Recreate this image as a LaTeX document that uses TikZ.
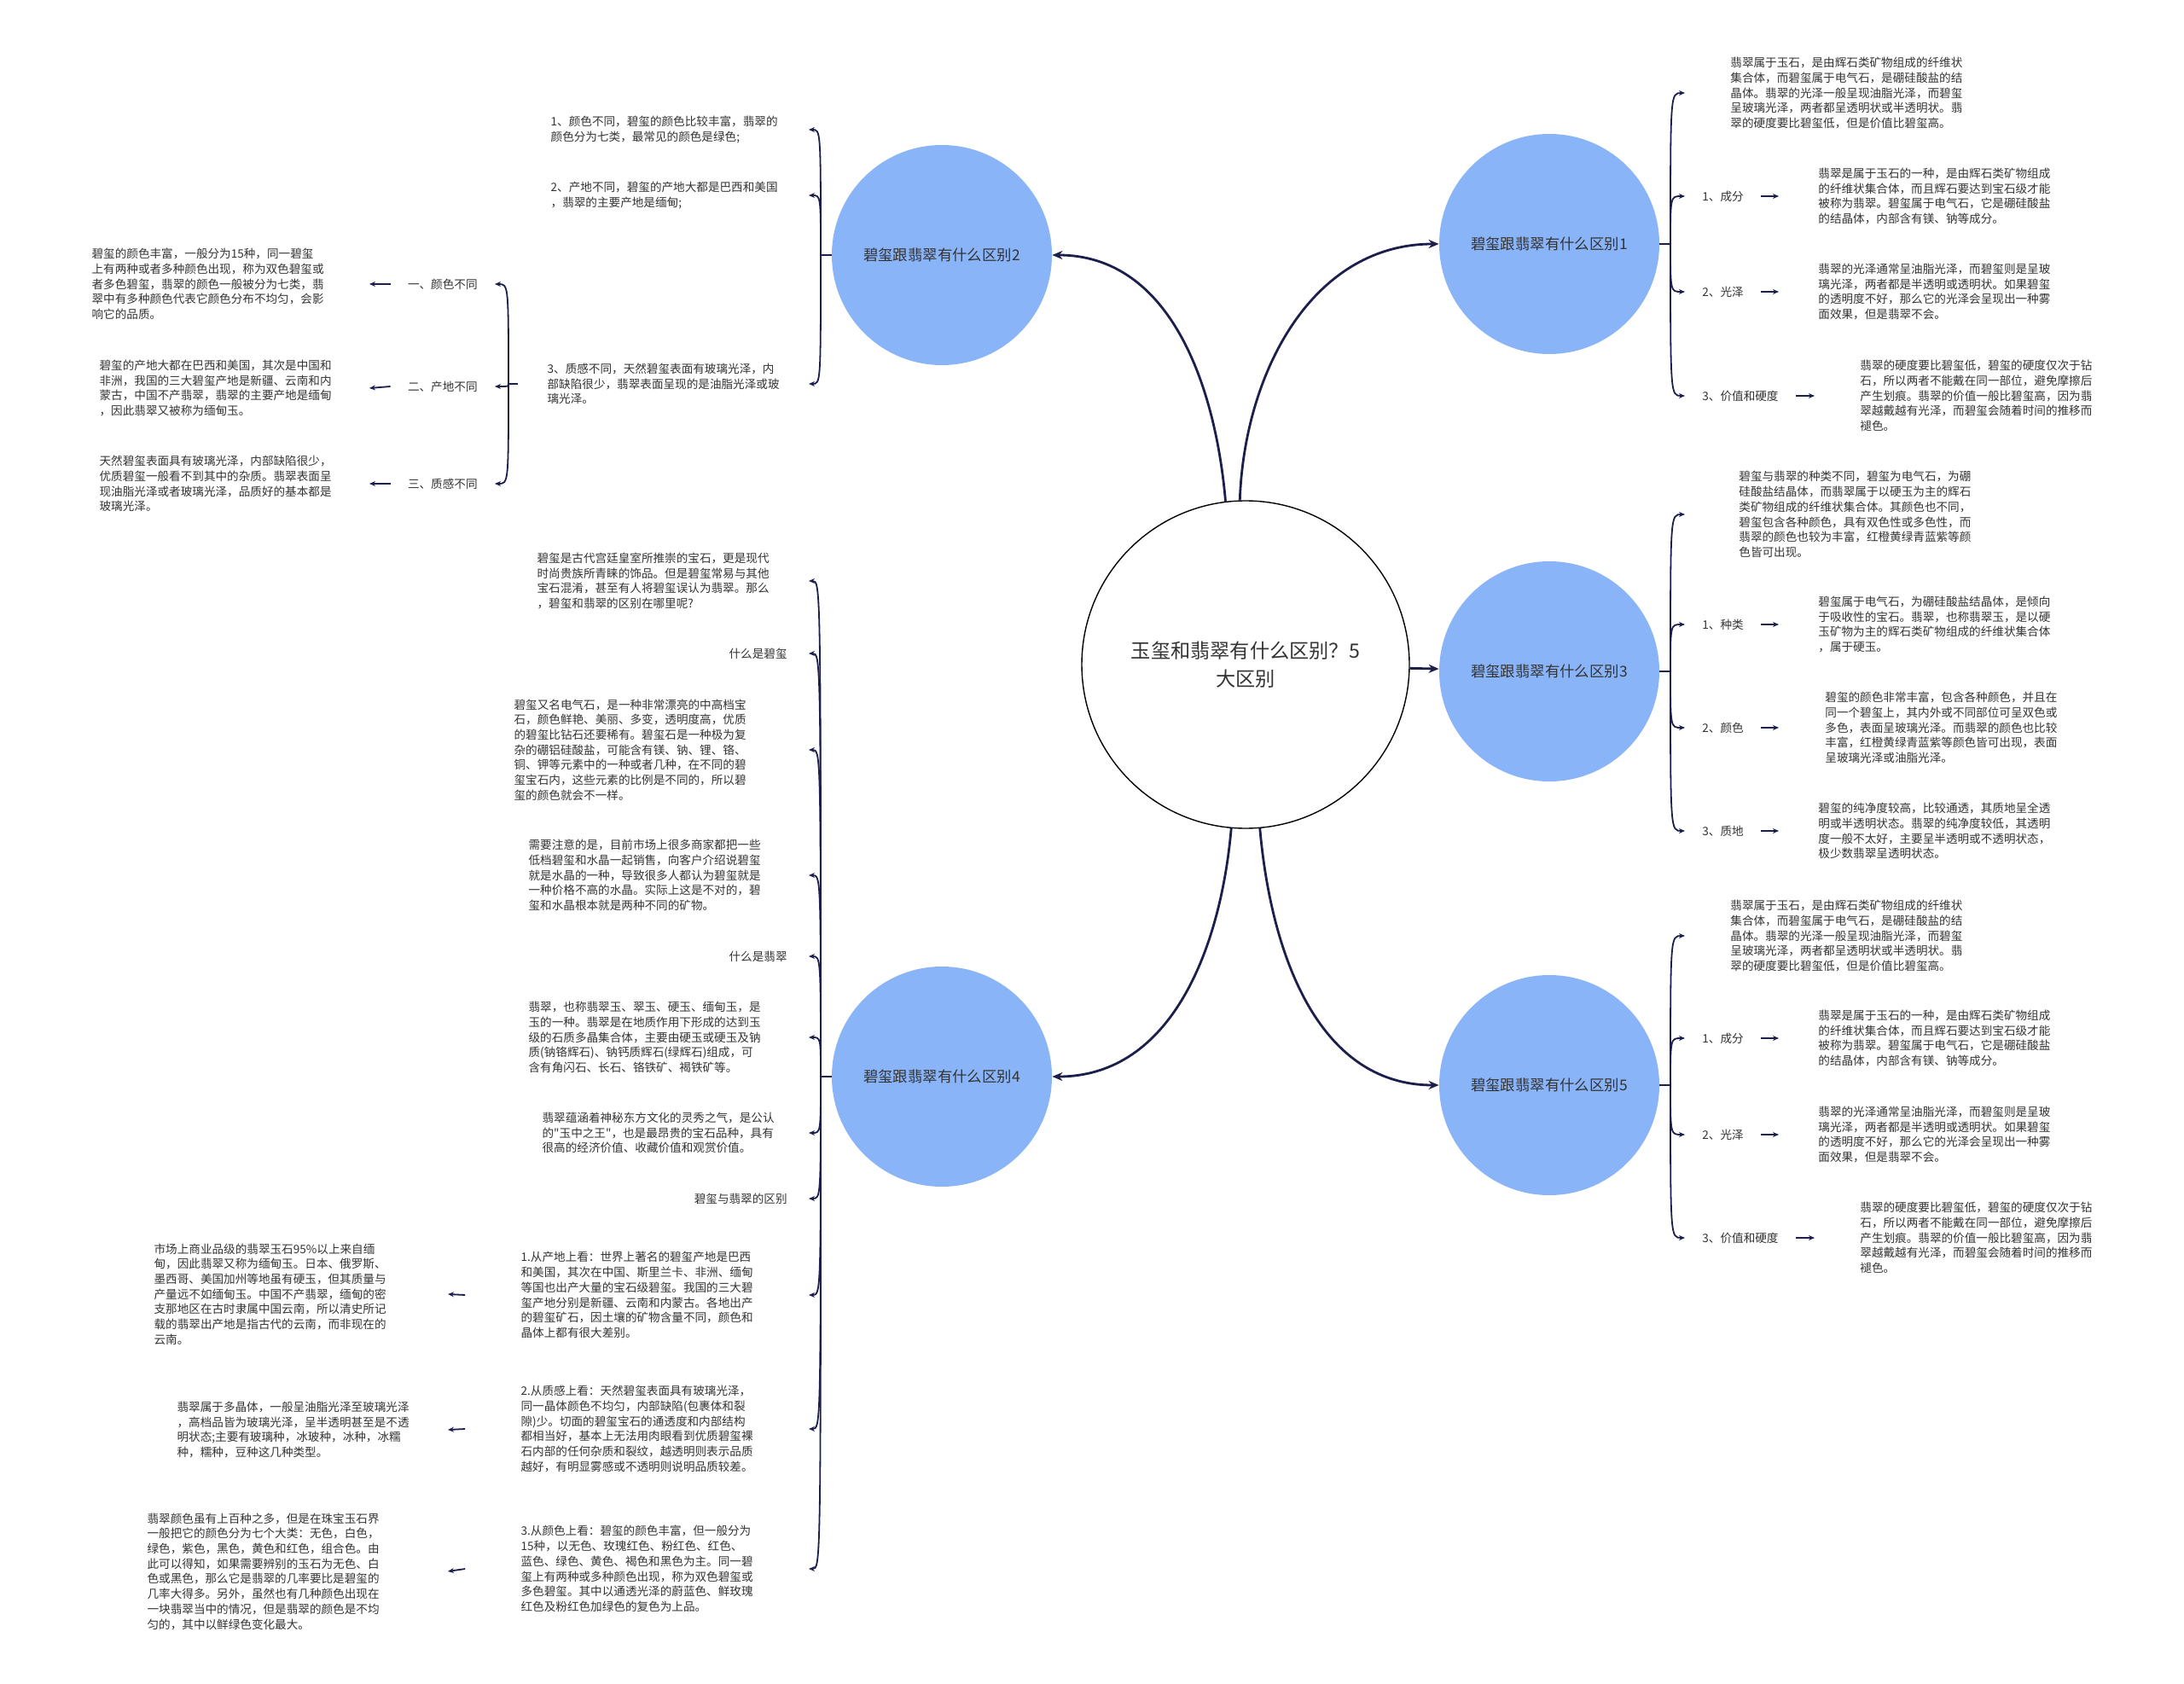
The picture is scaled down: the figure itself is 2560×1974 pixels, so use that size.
\documentclass[tikz,border=0pt]{standalone}
\usepackage{fontspec}
\newfontfamily\cjkfont{Noto Sans CJK SC}
\usepackage{xcolor}
\definecolor{branch-fill}{HTML}{8AB4F8}
\definecolor{link-navy}{HTML}{1C1E4B}
\definecolor{note-ink}{HTML}{333333}
\usepackage{tikz}
\usetikzlibrary{arrows.meta}

\newcommand{\notefont}{\cjkfont\fontsize{6.8pt}{8.85pt}\selectfont}
\newcommand{\branchfont}{\cjkfont\fontsize{8.7pt}{11pt}\selectfont}
\newcommand{\topicfont}{\cjkfont\fontsize{11.6pt}{16.5pt}\selectfont}

\begin{document}
\begin{tikzpicture}[
    x=0.5pt, y=-0.5pt,
    topic/.style={
      circle,
      draw=black,
      line width=0.7pt,
      fill=white,
      minimum size=192pt,
      inner sep=0pt,
      font=\topicfont,
      text=note-ink,
      align=center
    },
    branch/.style={
      circle,
      fill=branch-fill,
      minimum size=129pt,
      inner sep=0pt,
      font=\branchfont,
      text=note-ink
    },
    note/.style={
      font=\notefont,
      text=note-ink,
      align=left,
      inner ysep=2pt,
      inner xsep=#1
    },
    note/.default=5pt,
    tag/.style={note=10pt},
    trunk/.style={
      draw=link-navy,
      line width=1.4pt,
      -{Stealth[length=6pt,width=5pt]}
    },
    twig/.style={
      draw=link-navy,
      line width=0.9pt
    },
    arrowed/.style={-{Stealth[length=3.5pt,width=3pt]}}
  ]
    \fill[white] (0,0) rectangle (2560,1974);
    \useasboundingbox (0,0) rectangle (2560,1974);

    \node[topic]  (topic) at (1460,779)  {玉玺和翡翠有什么区别？5\\大区别};
    \node[branch] (b1)    at (1816,286)  {碧玺跟翡翠有什么区别1};
    \node[branch] (b2)    at (1104,299)  {碧玺跟翡翠有什么区别2};
    \node[branch] (b3)    at (1816,787)  {碧玺跟翡翠有什么区别3};
    \node[branch] (b4)    at (1104,1262) {碧玺跟翡翠有什么区别4};
    \node[branch] (b5)    at (1816,1272) {碧玺跟翡翠有什么区别5};

    % branch 1
    \coordinate (j1) at (1958,286);
    \node[note=26.5pt, anchor=west] (b1t) at (1975,109) {翡翠属于玉石，是由辉石类矿物组成的纤维状\\集合体，而碧玺属于电气石，是硼硅酸盐的结\\晶体。翡翠的光泽一般呈现油脂光泽，而碧玺\\呈玻璃光泽，两者都呈透明状或半透明状。翡\\翠的硬度要比碧玺低，但是价值比碧玺高。};
    \node[tag, anchor=west] (b1a) at (1975,230) {1、成分};
    \node[tag, anchor=west] (b1b) at (1975,342) {2、光泽};
    \node[tag, anchor=west] (b1c) at (1975,464) {3、价值和硬度};
    \node[note=23pt, anchor=west] (b1a-d) at (2085,230) {翡翠是属于玉石的一种，是由辉石类矿物组成\\的纤维状集合体，而且辉石要达到宝石级才能\\被称为翡翠。碧玺属于电气石，它是硼硅酸盐\\的结晶体，内部含有镁、钠等成分。};
    \node[note=23pt, anchor=west] (b1b-d) at (2085,342) {翡翠的光泽通常呈油脂光泽，而碧玺则是呈玻\\璃光泽，两者都是半透明或透明状。如果碧玺\\的透明度不好，那么它的光泽会呈现出一种雾\\面效果，但是翡翠不会。};
    \node[note=26.5pt, anchor=west] (b1c-d) at (2127,464) {翡翠的硬度要比碧玺低，碧玺的硬度仅次于钻\\石，所以两者不能戴在同一部位，避免摩擦后\\产生划痕。翡翠的价值一般比碧玺高，因为翡\\翠越戴越有光泽，而碧玺会随着时间的推移而\\褪色。};

    % branch 3
    \coordinate (j3) at (1958,787);
    \node[note=31.5pt, anchor=west] (b3t) at (1975,603) {碧玺与翡翠的种类不同，碧玺为电气石，为硼\\硅酸盐结晶体，而翡翠属于以硬玉为主的辉石\\类矿物组成的纤维状集合体。其颜色也不同，\\碧玺包含各种颜色，具有双色性或多色性，而\\翡翠的颜色也较为丰富，红橙黄绿青蓝紫等颜\\色皆可出现。};
    \node[tag, anchor=west] (b3a) at (1975,732) {1、种类};
    \node[tag, anchor=west] (b3b) at (1975,853) {2、颜色};
    \node[tag, anchor=west] (b3c) at (1975,974) {3、质地};
    \node[note=23pt, anchor=west] (b3a-d) at (2085,732) {碧玺属于电气石，为硼硅酸盐结晶体，是倾向\\于吸收性的宝石。翡翠，也称翡翠玉，是以硬\\玉矿物为主的辉石类矿物组成的纤维状集合体\\，属于硬玉。};
    \node[note=27pt, anchor=west] (b3b-d) at (2085,853) {碧玺的颜色非常丰富，包含各种颜色，并且在\\同一个碧玺上，其内外或不同部位可呈双色或\\多色，表面呈玻璃光泽。而翡翠的颜色也比较\\丰富，红橙黄绿青蓝紫等颜色皆可出现，表面\\呈玻璃光泽或油脂光泽。};
    \node[note=23pt, anchor=west] (b3c-d) at (2085,974) {碧玺的纯净度较高，比较通透，其质地呈全透\\明或半透明状态。翡翠的纯净度较低，其透明\\度一般不太好，主要呈半透明或不透明状态，\\极少数翡翠呈透明状态。};

    % branch 5
    \coordinate (j5) at (1958,1272);
    \node[note=26.5pt, anchor=west] (b5t) at (1975,1097) {翡翠属于玉石，是由辉石类矿物组成的纤维状\\集合体，而碧玺属于电气石，是硼硅酸盐的结\\晶体。翡翠的光泽一般呈现油脂光泽，而碧玺\\呈玻璃光泽，两者都呈透明状或半透明状。翡\\翠的硬度要比碧玺低，但是价值比碧玺高。};
    \node[tag, anchor=west] (b5a) at (1975,1217) {1、成分};
    \node[tag, anchor=west] (b5b) at (1975,1330) {2、光泽};
    \node[tag, anchor=west] (b5c) at (1975,1451) {3、价值和硬度};
    \node[note=23pt, anchor=west] (b5a-d) at (2085,1217) {翡翠是属于玉石的一种，是由辉石类矿物组成\\的纤维状集合体，而且辉石要达到宝石级才能\\被称为翡翠。碧玺属于电气石，它是硼硅酸盐\\的结晶体，内部含有镁、钠等成分。};
    \node[note=23pt, anchor=west] (b5b-d) at (2085,1330) {翡翠的光泽通常呈油脂光泽，而碧玺则是呈玻\\璃光泽，两者都是半透明或透明状。如果碧玺\\的透明度不好，那么它的光泽会呈现出一种雾\\面效果，但是翡翠不会。};
    \node[note=26.5pt, anchor=west] (b5c-d) at (2127,1451) {翡翠的硬度要比碧玺低，碧玺的硬度仅次于钻\\石，所以两者不能戴在同一部位，避免摩擦后\\产生划痕。翡翠的价值一般比碧玺高，因为翡\\翠越戴越有光泽，而碧玺会随着时间的推移而\\褪色。};

    % branch 2
    \coordinate (j2) at (962,299);
    \node[note=18pt, anchor=east] (b2a) at (948,152) {1、颜色不同，碧玺的颜色比较丰富，翡翠的\\颜色分为七类，最常见的颜色是绿色;};
    \node[note=18pt, anchor=east] (b2b) at (948,229) {2、产地不同，碧玺的产地大都是巴西和美国\\，翡翠的主要产地是缅甸;};
    \node[note=17pt, anchor=east] (b2c) at (948,450) {3、质感不同，天然碧玺表面有玻璃光泽，内\\部缺陷很少，翡翠表面呈现的是油脂光泽或玻\\璃光泽。};
    \coordinate (j2c) at (596,450);
    \node[tag, anchor=east] (b2c1) at (580,333) {一、颜色不同};
    \node[tag, anchor=east] (b2c2) at (580,453) {二、产地不同};
    \node[tag, anchor=east] (b2c3) at (580,567) {三、质感不同};
    \node[note=26.5pt, anchor=east] (b2c1-d) at (433,333) {碧玺的颜色丰富，一般分为15种，同一碧玺\\上有两种或者多种颜色出现，称为双色碧玺或\\者多色碧玺，翡翠的颜色一般被分为七类，翡\\翠中有多种颜色代表它颜色分布不均匀，会影\\响它的品质。};
    \node[note=22pt, anchor=east] (b2c2-d) at (433,455) {碧玺的产地大都在巴西和美国，其次是中国和\\非洲，我国的三大碧玺产地是新疆、云南和内\\蒙古，中国不产翡翠，翡翠的主要产地是缅甸\\，因此翡翠又被称为缅甸玉。};
    \node[note=22pt, anchor=east] (b2c3-d) at (433,567) {天然碧玺表面具有玻璃光泽，内部缺陷很少，\\优质碧玺一般看不到其中的杂质。翡翠表面呈\\现油脂光泽或者玻璃光泽，品质好的基本都是\\玻璃光泽。};

    % branch 4
    \coordinate (j4) at (962,1262);
    \node[note=23pt, anchor=east] (b4a) at (948,681) {碧玺是古代宫廷皇室所推崇的宝石，更是现代\\时尚贵族所青睐的饰品。但是碧玺常易与其他\\宝石混淆，甚至有人将碧玺误认为翡翠。那么\\，碧玺和翡翠的区别在哪里呢?};
    \node[note=12.5pt, anchor=east] (b4b) at (948,766) {什么是碧玺};
    \node[note=36.5pt, anchor=east] (b4c) at (948,879) {碧玺又名电气石，是一种非常漂亮的中高档宝\\石，颜色鲜艳、美丽、多变，透明度高，优质\\的碧玺比钻石还要稀有。碧玺石是一种极为复\\杂的硼铝硅酸盐，可能含有镁、钠、锂、铬、\\铜、钾等元素中的一种或者几种，在不同的碧\\玺宝石内，这些元素的比例是不同的，所以碧\\玺的颜色就会不一样。};
    \node[note=28pt, anchor=east] (b4d) at (948,1026) {需要注意的是，目前市场上很多商家都把一些\\低档碧玺和水晶一起销售，向客户介绍说碧玺\\就是水晶的一种，导致很多人都认为碧玺就是\\一种价格不高的水晶。实际上这是不对的，碧\\玺和水晶根本就是两种不同的矿物。};
    \node[note=12.5pt, anchor=east] (b4e) at (948,1121) {什么是翡翠};
    \node[note=28pt, anchor=east] (b4f) at (948,1216) {翡翠，也称翡翠玉、翠玉、硬玉、缅甸玉，是\\玉的一种。翡翠是在地质作用下形成的达到玉\\级的石质多晶集合体，主要由硬玉或硬玉及钠\\质(钠铬辉石)、钠钙质辉石(绿辉石)组成，可\\含有角闪石、长石、铬铁矿、褐铁矿等。};
    \node[note=20pt, anchor=east] (b4g) at (948,1328) {翡翠蕴涵着神秘东方文化的灵秀之气，是公认\\的"玉中之王"，也是最昂贵的宝石品种，具有\\很高的经济价值、收藏价值和观赏价值。};
    \node[note=12.5pt, anchor=east] (b4h) at (948,1405) {碧玺与翡翠的区别};
    \node[note=32.5pt, anchor=east] (b4i) at (948,1518) {1.从产地上看：世界上著名的碧玺产地是巴西\\和美国，其次在中国、斯里兰卡、非洲、缅甸\\等国也出产大量的宝石级碧玺。我国的三大碧\\玺产地分别是新疆、云南和内蒙古。各地出产\\的碧玺矿石，因土壤的矿物含量不同，颜色和\\晶体上都有很大差别。};
    \node[note=32.5pt, anchor=east] (b4j) at (948,1675) {2.从质感上看：天然碧玺表面具有玻璃光泽，\\同一晶体颜色不均匀，内部缺陷(包裹体和裂\\隙)少。切面的碧玺宝石的通透度和内部结构\\都相当好，基本上无法用肉眼看到优质碧玺裸\\石内部的任何杂质和裂纹，越透明则表示品质\\越好，有明显雾感或不透明则说明品质较差。};
    \node[note=32.5pt, anchor=east] (b4k) at (948,1839) {3.从颜色上看：碧玺的颜色丰富，但一般分为\\15种，以无色、玫瑰红色、粉红色、红色、\\蓝色、绿色、黄色、褐色和黑色为主。同一碧\\玺上有两种或多种颜色出现，称为双色碧玺或\\多色碧玺。其中以通透光泽的蔚蓝色、鲜玫瑰\\红色及粉红色加绿色的复色为上品。};
    \node[note=36pt, anchor=east] (b4i-d) at (525,1517) {市场上商业品级的翡翠玉石95\%以上来自缅\\甸，因此翡翠又称为缅甸玉。日本、俄罗斯、\\墨西哥、美国加州等地虽有硬玉，但其质量与\\产量远不如缅甸玉。中国不产翡翠，缅甸的密\\支那地区在古时隶属中国云南，所以清史所记\\载的翡翠出产地是指古代的云南，而非现在的\\云南。};
    \node[note=22.5pt, anchor=east] (b4j-d) at (525,1676) {翡翠属于多晶体，一般呈油脂光泽至玻璃光泽\\，高档品皆为玻璃光泽，呈半透明甚至是不透\\明状态;主要有玻璃种，冰玻种，冰种，冰糯\\种，糯种，豆种这几种类型。};
    \node[note=40pt, anchor=east] (b4k-d) at (525,1842) {翡翠颜色虽有上百种之多，但是在珠宝玉石界\\一般把它的颜色分为七个大类：无色，白色，\\绿色，紫色，黑色，黄色和红色，组合色。由\\此可以得知，如果需要辨别的玉石为无色、白\\色或黑色，那么它是翡翠的几率要比是碧玺的\\几率大得多。另外，虽然也有几种颜色出现在\\一块翡翠当中的情况，但是翡翠的颜色是不均\\匀的，其中以鲜绿色变化最大。};

    % topic -> branches
    \draw[trunk] (topic.92)  to[out=88, in=180]  (b1.west);
    \draw[trunk] (topic.97)  to[out=95, in=0]    (b2.east);
    \draw[trunk] (topic)     --                  (b3);
    \draw[trunk] (topic.-95) to[out=-95, in=0]   (b4.east);
    \draw[trunk] (topic.-85) to[out=-85, in=180] (b5.west);

    % branch 1 -> items
    \draw[twig] (b1.east) -- (j1);
    \draw[twig, arrowed] (j1) .. controls (j1 |- b1t.west) .. (b1t.west);
    \draw[twig, arrowed] (j1) .. controls (j1 |- b1a.west) .. (b1a.west);
    \draw[twig, arrowed] (j1) .. controls (j1 |- b1b.west) .. (b1b.west);
    \draw[twig, arrowed] (j1) .. controls (j1 |- b1c.west) .. (b1c.west);
    \draw[twig, arrowed] (b1a.east) -- (b1a-d.west);
    \draw[twig, arrowed] (b1b.east) -- (b1b-d.west);
    \draw[twig, arrowed] (b1c.east) -- (b1c-d.west);

    % branch 3 -> items
    \draw[twig] (b3.east) -- (j3);
    \draw[twig, arrowed] (j3) .. controls (j3 |- b3t.west) .. (b3t.west);
    \draw[twig, arrowed] (j3) .. controls (j3 |- b3a.west) .. (b3a.west);
    \draw[twig, arrowed] (j3) .. controls (j3 |- b3b.west) .. (b3b.west);
    \draw[twig, arrowed] (j3) .. controls (j3 |- b3c.west) .. (b3c.west);
    \draw[twig, arrowed] (b3a.east) -- (b3a-d.west);
    \draw[twig, arrowed] (b3b.east) -- (b3b-d.west);
    \draw[twig, arrowed] (b3c.east) -- (b3c-d.west);

    % branch 5 -> items
    \draw[twig] (b5.east) -- (j5);
    \draw[twig, arrowed] (j5) .. controls (j5 |- b5t.west) .. (b5t.west);
    \draw[twig, arrowed] (j5) .. controls (j5 |- b5a.west) .. (b5a.west);
    \draw[twig, arrowed] (j5) .. controls (j5 |- b5b.west) .. (b5b.west);
    \draw[twig, arrowed] (j5) .. controls (j5 |- b5c.west) .. (b5c.west);
    \draw[twig, arrowed] (b5a.east) -- (b5a-d.west);
    \draw[twig, arrowed] (b5b.east) -- (b5b-d.west);
    \draw[twig, arrowed] (b5c.east) -- (b5c-d.west);

    % branch 2 -> items, item 3 -> sub items
    \draw[twig] (b2.west) -- (j2);
    \draw[twig, arrowed] (j2) .. controls (j2 |- b2a.east) .. (b2a.east);
    \draw[twig, arrowed] (j2) .. controls (j2 |- b2b.east) .. (b2b.east);
    \draw[twig, arrowed] (j2) .. controls (j2 |- b2c.east) .. (b2c.east);
    \draw[twig] (b2c.west) -- (j2c);
    \draw[twig, arrowed] (j2c) .. controls (j2c |- b2c1.east) .. (b2c1.east);
    \draw[twig, arrowed] (j2c) .. controls (j2c |- b2c2.east) .. (b2c2.east);
    \draw[twig, arrowed] (j2c) .. controls (j2c |- b2c3.east) .. (b2c3.east);
    \draw[twig, arrowed] (b2c1.west) -- (b2c1-d.east);
    \draw[twig, arrowed] (b2c2.west) -- (b2c2-d.east);
    \draw[twig, arrowed] (b2c3.west) -- (b2c3-d.east);

    % branch 4 -> items
    \draw[twig] (b4.west) -- (j4);
    \draw[twig, arrowed] (j4) .. controls (j4 |- b4a.east) .. (b4a.east);
    \draw[twig, arrowed] (j4) .. controls (j4 |- b4b.east) .. (b4b.east);
    \draw[twig, arrowed] (j4) .. controls (j4 |- b4c.east) .. (b4c.east);
    \draw[twig, arrowed] (j4) .. controls (j4 |- b4d.east) .. (b4d.east);
    \draw[twig, arrowed] (j4) .. controls (j4 |- b4e.east) .. (b4e.east);
    \draw[twig, arrowed] (j4) .. controls (j4 |- b4f.east) .. (b4f.east);
    \draw[twig, arrowed] (j4) .. controls (j4 |- b4g.east) .. (b4g.east);
    \draw[twig, arrowed] (j4) .. controls (j4 |- b4h.east) .. (b4h.east);
    \draw[twig, arrowed] (j4) .. controls (j4 |- b4i.east) .. (b4i.east);
    \draw[twig, arrowed] (j4) .. controls (j4 |- b4j.east) .. (b4j.east);
    \draw[twig, arrowed] (j4) .. controls (j4 |- b4k.east) .. (b4k.east);
    \draw[twig, arrowed] (b4i.west) -- (b4i-d.east);
    \draw[twig, arrowed] (b4j.west) -- (b4j-d.east);
    \draw[twig, arrowed] (b4k.west) -- (b4k-d.east);
  \end{tikzpicture}
\end{document}
